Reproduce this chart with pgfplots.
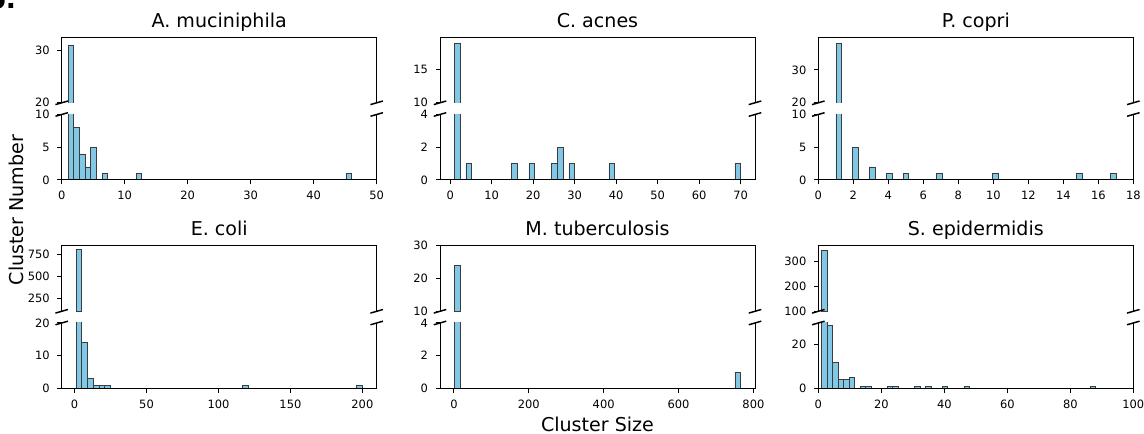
\documentclass[border=0pt]{standalone}
\usepackage{fontspec}
\setmainfont{DejaVu Sans}
\usepackage{pgfplots}
\pgfplotsset{compat=1.18}
\definecolor{barfill}{RGB}{128,200,230}
\definecolor{baredge}{RGB}{60,60,60}
\pgfplotsset{
  part/.style={
    scale only axis, width=236.25pt, height=49.13pt, anchor=south west,
    axis line style={draw=none},
    tick align=outside, ytick pos=left, xtick pos=bottom,
    major tick length=3.3pt,
    every tick/.style={black, line width=0.75pt},
    ticklabel style={font=\fontsize{8.6}{10}\selectfont},
    /pgf/number format/assume math mode=true,
    yticklabel style={anchor=east, inner sep=0pt, xshift=-5.5pt},
    xticklabel style={anchor=base, inner sep=0pt, yshift=-11.5pt},
    ybar, bar shift=0pt,
    every axis title/.style={at={(0.5,1)}, anchor=base, yshift=7.5pt, font=\fontsize{14.3}{17}\selectfont},
  },
  toppart/.style={part, xtick=\empty},
  hbar/.style={fill=barfill, draw=baredge, line width=0.4pt},
}
\newcommand{\spines}[2]{%
  \draw[line width=0.75pt] (#1.south west) -- (#1.north west) -- (#1.north east) -- (#1.south east);
  \draw[line width=0.75pt] (#2.north west) -- (#2.south west) -- (#2.south east) -- (#2.north east);
  \foreach \a in {#1.south west, #1.south east, #2.north west, #2.north east}{
    \draw[line width=1.1pt] ([shift={(-4.7pt,-1.35pt)}]\a) -- ++(9.4pt,2.7pt);
  }%
}
\begin{document}
\begin{tikzpicture}
\path[use as bounding box] (0pt,0pt) rectangle (858pt,325.5pt);
% ---------- A. muciniphila
\begin{axis}[toppart, name=t1, at={(46.28pt,248.4pt)}, title={A. muciniphila},
  xmin=0, xmax=50, ymin=20, ymax=32.55, ytick={20,30}, bar width=0.9]
\addplot+[hbar] coordinates {(1.45,31)};
\end{axis}
\begin{axis}[part, name=b1, at={(46.28pt,190.5pt)},
  xmin=0, xmax=50, xtick={0,10,...,50}, ymin=0, ymax=10, ytick={0,5,10}, bar width=0.9]
\addplot+[hbar] coordinates {(1.45,31) (2.35,8) (3.25,4) (4.15,2) (5.05,5) (6.85,1) (12.25,1) (45.55,1)};
\end{axis}
\spines{t1}{b1}
% ---------- C. acnes
\begin{axis}[toppart, name=t2, at={(330pt,248.4pt)}, title={C. acnes},
  xmin=-2.45, xmax=73.45, ymin=10, ymax=19.95, ytick={10,15}, bar width=1.38]
\addplot+[hbar] coordinates {(1.69,19)};
\end{axis}
\begin{axis}[part, name=b2, at={(330pt,190.5pt)},
  xmin=-2.45, xmax=73.45, xtick={0,10,...,70}, ymin=0, ymax=4, ytick={0,2,4}, bar width=1.38]
\addplot+[hbar] coordinates {(1.69,19) (4.45,1) (15.49,1) (19.63,1) (25.15,1) (26.53,2) (29.29,1) (38.95,1) (69.31,1)};
\end{axis}
\spines{t2}{b2}
% ---------- P. copri
\begin{axis}[toppart, name=t3, at={(613.73pt,248.4pt)}, title={P. copri},
  xmin=0, xmax=18, ymin=20, ymax=39.9, ytick={20,30}, bar width=0.32]
\addplot+[hbar] coordinates {(1.16,38)};
\end{axis}
\begin{axis}[part, name=b3, at={(613.73pt,190.5pt)},
  xmin=0, xmax=18, xtick={0,2,...,18}, ymin=0, ymax=10, ytick={0,5,10}, bar width=0.32]
\addplot+[hbar] coordinates {(1.16,38) (2.12,5) (3.08,2) (4.04,1) (5.00,1) (6.92,1) (10.12,1) (14.92,1) (16.84,1)};
\end{axis}
\spines{t3}{b3}
% ---------- E. coli
\begin{axis}[toppart, name=t4, at={(46.28pt,92.03pt)}, title={E. coli},
  xmin=-8.95, xmax=209.95, ymin=100, ymax=848, ytick={250,500,750}, bar width=3.98]
\addplot+[hbar] coordinates {(2.99,808)};
\end{axis}
\begin{axis}[part, name=b4, at={(46.28pt,34.13pt)},
  xmin=-8.95, xmax=209.95, xtick={0,50,...,200}, ymin=0, ymax=20, ytick={0,10,20}, bar width=3.98]
\addplot+[hbar] coordinates {(2.99,808) (6.97,14) (10.95,3) (14.93,1) (18.91,1) (22.89,1) (118.41,1) (198.01,1)};
\end{axis}
\spines{t4}{b4}
% ---------- M. tuberculosis
\begin{axis}[toppart, name=t5, at={(330pt,92.03pt)}, title={M. tuberculosis},
  xmin=-37.25, xmax=804.25, ymin=10, ymax=30, ytick={10,20,30}, bar width=15.3]
\addplot+[hbar] coordinates {(8.65,24)};
\end{axis}
\begin{axis}[part, name=b5, at={(330pt,34.13pt)},
  xmin=-37.25, xmax=804.25, xtick={0,200,...,800}, ymin=0, ymax=4, ytick={0,2,4}, bar width=15.3]
\addplot+[hbar] coordinates {(8.65,24) (758.35,1)};
\end{axis}
\spines{t5}{b5}
% ---------- S. epidermidis
\begin{axis}[toppart, name=t6, at={(613.73pt,92.03pt)}, title={S. epidermidis},
  xmin=0, xmax=100, ymin=100, ymax=363.5, ytick={100,200,300}, bar width=1.74]
\addplot+[hbar] coordinates {(1.87,346)};
\end{axis}
\begin{axis}[part, name=b6, at={(613.73pt,34.13pt)},
  xmin=0, xmax=100, xtick={0,20,...,100}, ymin=0, ymax=30, ytick={0,20}, bar width=1.74]
\addplot+[hbar] coordinates {(1.87,346) (3.61,29) (5.35,12) (7.09,4) (8.83,4) (10.57,5) (14.05,1) (15.79,1) (22.75,1) (24.49,1) (31.45,1) (34.93,1) (40.15,1) (47.11,1) (87.13,1)};
\end{axis}
\spines{t6}{b6}
% ---------- labels
\node[rotate=90, anchor=base, font=\fontsize{14.3}{17}\selectfont] at (17.5pt,168pt) {Cluster Number};
\node[anchor=base, font=\fontsize{14.3}{17}\selectfont] at (448.1pt,1.6pt) {Cluster Size};
\node[anchor=base west, inner sep=0pt, font=\fontsize{20}{24}\selectfont\bfseries] at (-10.1pt,318.75pt) {b.};
\end{tikzpicture}
\end{document}
